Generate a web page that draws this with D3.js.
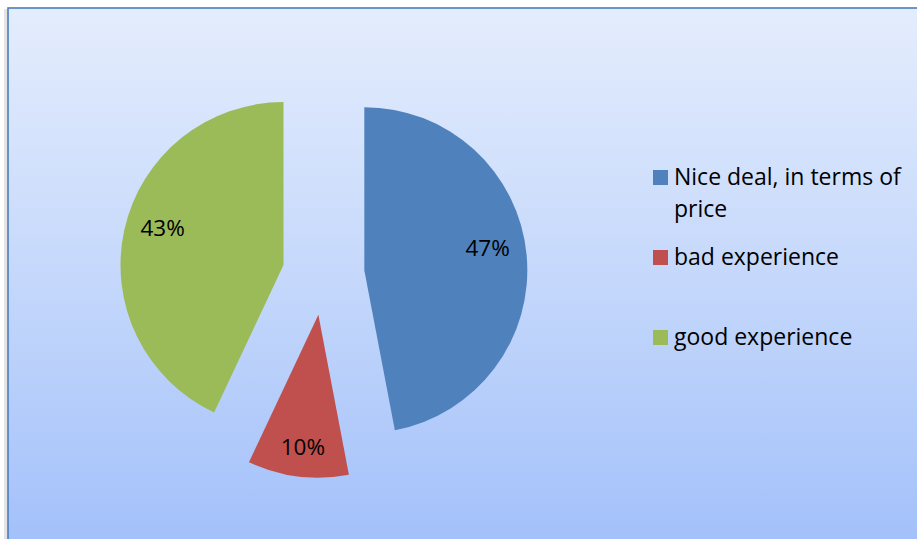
<!DOCTYPE html>
<html>
<head>
<meta charset="utf-8">
<script src="https://cdn.jsdelivr.net/npm/d3@7.9.0/dist/d3.min.js"></script>
<style>
  body { margin: 0; background: #fff; }
  svg { display: block; font-family: "Open Sans", Lato, sans-serif; }
</style>
</head>
<body>
<svg id="chart" width="917" height="539"></svg>
<script>
const categories = ['Nice deal, in terms of price', 'bad experience', 'good experience'];
const values = [47, 10, 43];
const colors = ['#4f81bd', '#c0504d', '#9bbb59'];

const svg = d3.select('#chart');
const W = 917, H = 539;

// background panel with gradient
const defs = svg.append('defs');
const grad = defs.append('linearGradient')
  .attr('id', 'bg')
  .attr('x1', 0).attr('y1', 0).attr('x2', 0).attr('y2', 1);
grad.append('stop').attr('offset', '0%').attr('stop-color', '#e4edfd');
grad.append('stop').attr('offset', '50%').attr('stop-color', '#c5d8fb');
grad.append('stop').attr('offset', '100%').attr('stop-color', '#a2c0fa');

// soft shadow on the left
svg.append('rect')
  .attr('x', 4).attr('y', 9).attr('width', 4).attr('height', H)
  .attr('fill', '#e4e4e4');
svg.append('rect')
  .attr('x', 8).attr('y', 8).attr('width', W).attr('height', H)
  .attr('fill', 'url(#bg)')
  .attr('stroke', '#4a7ebb')
  .attr('stroke-width', 1.6);

// pie
const cx = 323.5, cy = 274, r = 163, explode = 41;
const total = d3.sum(values);
const pie = d3.pie().sort(null).value((d) => d);
const arcs = pie(values);
const arc = d3.arc().innerRadius(0).outerRadius(r);
const labelArc = d3.arc().innerRadius(r * 0.76).outerRadius(r * 0.76);

const g = svg.append('g').attr('transform', `translate(${cx},${cy})`);

const slices = g.selectAll('g.slice')
  .data(arcs)
  .join('g')
  .attr('class', 'slice')
  .attr('transform', (d) => {
    const mid = (d.startAngle + d.endAngle) / 2;
    return `translate(${explode * Math.sin(mid)},${-explode * Math.cos(mid)})`;
  });

slices.append('path')
  .attr('d', arc)
  .attr('fill', (d, i) => colors[i]);

slices.append('text')
  .attr('transform', (d) => {
    const [x, y] = labelArc.centroid(d);
    return `translate(${x},${y + Math.sign(y) * 10})`;
  })
  .attr('text-anchor', 'middle')
  .attr('dy', '0.35em')
  .attr('font-size', 22.5)
  .attr('fill', '#000')
  .text((d) => Math.round((d.data / total) * 100) + '%');

// legend
const legendX = 653, legendY = [185, 265, 345];
const legend = svg.append('g');
categories.forEach((name, i) => {
  const row = legend.append('g').attr('transform', `translate(${legendX},${legendY[i]})`);
  row.append('rect')
    .attr('x', 0).attr('y', -15)
    .attr('width', 15).attr('height', 15)
    .attr('fill', colors[i]);
  const t = row.append('text')
    .attr('x', 21).attr('y', 0)
    .attr('font-size', 23)
    .attr('fill', '#000');
  // wrap the long label
  const words = name.split(' ');
  let line = [];
  const lines = [];
  words.forEach((w) => {
    const test = line.concat(w).join(' ');
    t.text(test);
    if (t.node().getComputedTextLength() > 242 && line.length) {
      lines.push(line.join(' '));
      line = [w];
    } else {
      line.push(w);
    }
  });
  lines.push(line.join(' '));
  t.text(null);
  lines.forEach((l, k) => {
    t.append('tspan').attr('x', 21).attr('dy', k === 0 ? 0 : 31.5).text(l);
  });
});
</script>
</body>
</html>
